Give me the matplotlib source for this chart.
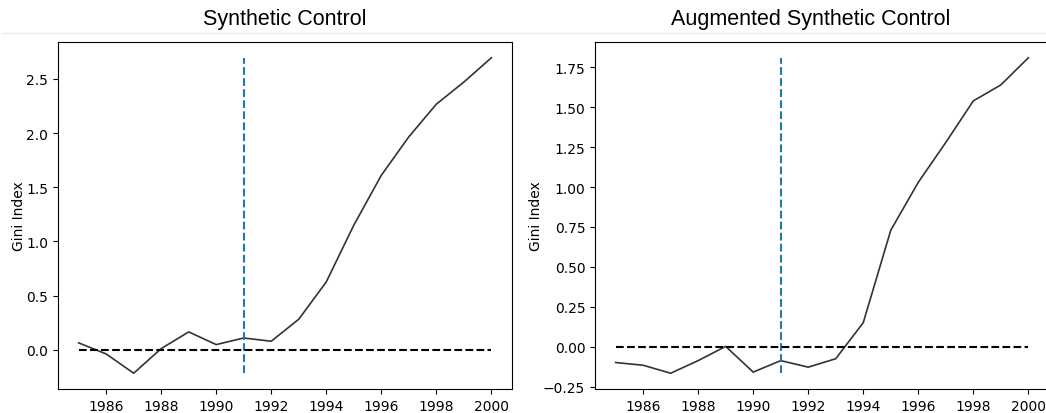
import numpy as np
import matplotlib.pyplot as plt
from matplotlib.lines import Line2D

# Years and Gini index gaps
years = [1985, 1986, 1987, 1988, 1989, 1990, 1991, 1992,
         1993, 1994, 1995, 1996, 1997, 1998, 1999, 2000]
sc_gap = [0.065, -0.037, -0.215, 0.012, 0.166, 0.049, 0.11, 0.08,
          0.283, 0.627, 1.15, 1.61, 1.965, 2.266, 2.47, 2.694]
asc_gap = [-0.099, -0.116, -0.166, -0.087, 0.002, -0.159, -0.087, -0.128,
           -0.075, 0.151, 0.73, 1.03, 1.28, 1.54, 1.64, 1.81]
treat_year = 1991
titles = ['Synthetic Control', 'Augmented Synthetic Control']
title_x = [285 / 1046, 811 / 1046]

fig = plt.figure(figsize=(10.46, 4.14), dpi=100)

ax1 = fig.add_axes([58 / 1046, 1 - 390 / 414, 454 / 1046, 347 / 414])
ax2 = fig.add_axes([595 / 1046, 1 - 390 / 414, 454 / 1046, 347 / 414])

for ax, gap in zip([ax1, ax2], [sc_gap, asc_gap]):
    ax.plot(years, gap, color='0.2', lw=1.2)
    ax.vlines(x=treat_year, ymin=min(gap), ymax=max(gap),
              linestyle='dashed', color='C0', lw=1.5)
    ax.hlines(y=0, xmin=years[0], xmax=years[-1],
              linestyle='dashed', color='black', lw=1.5)
    ax.set_ylabel('Gini Index', labelpad=0)

for x, t in zip(title_x, titles):
    fig.text(x, 1 - 25 / 414, t, ha='center', va='baseline',
             fontsize=15.5, family='Liberation Sans')

# thin separator under the titles
fig.add_artist(Line2D([3 / 1046, 1], [1 - 34 / 414, 1 - 34 / 414],
                      transform=fig.transFigure, color='#ebebeb', lw=1))

plt.savefig('out.png', dpi=100)
